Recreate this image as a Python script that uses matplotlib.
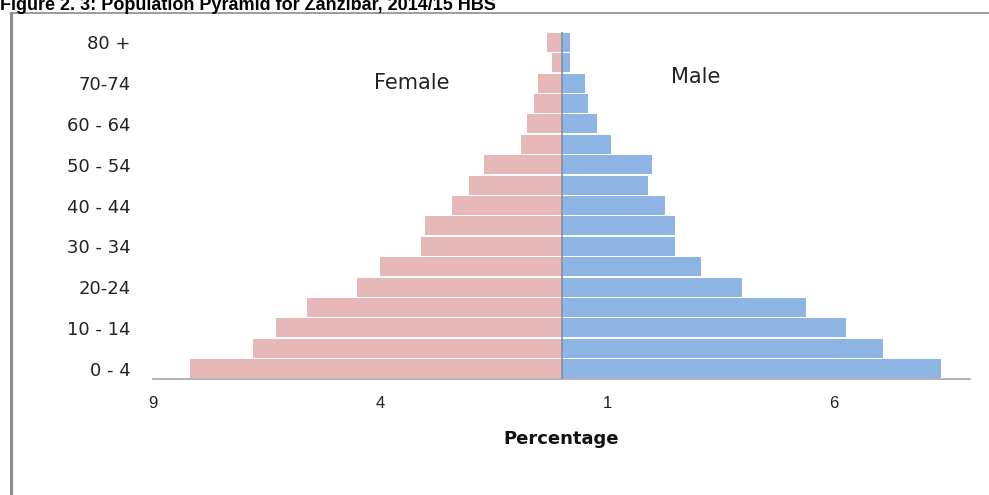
import matplotlib
matplotlib.use("Agg")
import matplotlib.pyplot as plt
from matplotlib.lines import Line2D
import numpy as np

age_groups = ["0-4", "5-9", "10-14", "15-19", "20-24", "25-29", "30-34", "35-39",
              "40-44", "45-49", "50-54", "55-59", "60-64", "65-69", "70-74", "75-79", "80+"]
female = [8.19, 6.80, 6.29, 5.61, 4.50, 4.00, 3.09, 3.00, 2.41, 2.03, 1.70, 0.90,
          0.77, 0.60, 0.51, 0.20, 0.31]
male = [8.37, 7.09, 6.27, 5.39, 3.97, 3.07, 2.49, 2.49, 2.27, 1.90, 2.00, 1.10,
        0.79, 0.58, 0.51, 0.18, 0.18]
y_tick_labels = ["0 - 4", "10 - 14", "20-24", "30 - 34", "40 - 44", "50 - 54",
                 "60 - 64", "70-74", "80 +"]
x_ticks = [-9, -4, 1, 6]
x_tick_labels = ["9", "4", "1", "6"]

plt.rcParams['font.family'] = ['DejaVu Sans']

fig = plt.figure(figsize=(9.89, 4.95), dpi=100)
ax = fig.add_axes([153 / 989, 1 - 379 / 495, (970 - 153) / 989, (379 - 32) / 495])

y = np.arange(len(age_groups))
ax.barh(y, [-v for v in female], height=0.93, color="#E6B9B8", edgecolor="none")
ax.barh(y, male, height=0.93, color="#8EB4E3", edgecolor="none")
ax.axvline(0, color="#7F8FA6", lw=1.2, zorder=3)

ax.set_xlim(-9, 9)
ax.set_ylim(-0.5, 16.5)

ax.set_yticks(y[::2])
ax.set_yticklabels(y_tick_labels, fontsize=13, color="#222222")
ax.set_xticks(x_ticks)
ax.set_xticklabels(x_tick_labels, fontsize=12, color="#222222",
                   family=["Liberation Sans"])
ax.tick_params(axis='y', length=0, pad=16)
ax.tick_params(axis='x', length=0, pad=12)

for s in ["top", "right", "left"]:
    ax.spines[s].set_visible(False)
ax.spines["bottom"].set_color("#A6A6A6")
ax.spines["bottom"].set_linewidth(1.2)

ax.set_xlabel("Percentage", fontsize=13, fontweight="bold", labelpad=14, color="#111111")

ax.text(-3.3, 14.0, "Female", fontsize=15, ha="center", va="center", color="#222222")
ax.text(2.95, 14.3, "Male", fontsize=15, ha="center", va="center", color="#222222")

# figure frame (left and top borders)
fig.add_artist(Line2D([11 / 989, 11 / 989], [0, 1 - 13 / 495], transform=fig.transFigure,
                      color="#8C8C8C", lw=2.2))
fig.add_artist(Line2D([11 / 989, 1], [1 - 13 / 495, 1 - 13 / 495], transform=fig.transFigure,
                      color="#8C8C8C", lw=1.2))

fig.text(0 / 989, 1 - 10 / 495, "Figure 2. 3: Population Pyramid for Zanzibar, 2014/15 HBS",
         fontsize=13, fontweight="bold", ha="left", va="baseline",
         family=["Liberation Sans"])

fig.savefig("out.png", dpi=100)
